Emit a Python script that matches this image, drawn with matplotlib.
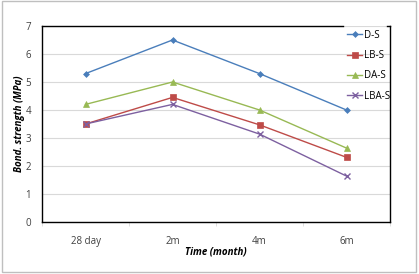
import matplotlib
matplotlib.use("Agg")
import matplotlib.pyplot as plt
from matplotlib.lines import Line2D
from matplotlib.patches import Rectangle

categories = ["28 day", "2m", "4m", "6m"]
series_names = ["D-S", "LB-S", "DA-S", "LBA-S"]
d_s = [5.3, 6.5, 5.3, 4.0]
lb_s = [3.5, 4.45, 3.47, 2.31]
da_s = [4.2, 5.0, 4.0, 2.64]
lba_s = [3.5, 4.2, 3.14, 1.64]
colors = ["#4A7EBB", "#BE4B48", "#98B954", "#7D60A0"]
markers = ["D", "s", "^", "x"]
msizes = [3, 4, 4, 4]

plt.rcParams['font.family'] = ['Open Sans', 'DejaVu Sans']

fig = plt.figure(figsize=(4.19, 2.74), dpi=100)
fig.patches.append(Rectangle((0.004, 0.006), 0.988, 0.99, transform=fig.transFigure,
                             fill=False, edgecolor="#BFBFBF", linewidth=1.0))
ax = fig.add_axes([42/419, 1-222/274, 348/419, 196/274])

xs = [i + 0.5 for i in range(len(categories))]
for name, vals, c, m, ms in zip(series_names, [d_s, lb_s, da_s, lba_s], colors, markers, msizes):
    ax.plot(xs, vals, color=c, marker=m, markersize=ms, linewidth=1.0, label=name,
            markeredgewidth=1.0 if m == "x" else 0.5)

ax.set_xlim(0, 4)
ax.set_ylim(0, 7)
ax.set_yticks(range(0, 8))
ax.set_xticks(xs)
ax.set_xticklabels(categories)
ax.set_xticks([0, 1, 2, 3, 4], minor=True)
ax.tick_params(axis="x", which="major", length=0, labelsize=7, pad=10, colors="#404040")
ax.tick_params(axis="x", which="minor", length=3, color="#D9D9D9")
ax.tick_params(axis="y", length=0, labelsize=7, colors="#404040", pad=8)
ax.grid(axis="y", color="#D9D9D9", linewidth=0.8)
ax.set_axisbelow(True)
ax.spines["top"].set_visible(False)
for s in ["left", "bottom", "right"]:
    ax.spines[s].set_color("#000000")
    ax.spines[s].set_linewidth(1.0)
ax.add_line(Line2D([0, 0.865], [1, 1], transform=ax.transAxes, color="black", linewidth=1.0, clip_on=False))
ax.add_line(Line2D([0.99, 1], [1, 1], transform=ax.transAxes, color="black", linewidth=1.0, clip_on=False))

ax.set_ylabel("Bond. strength (MPa)", fontsize=7, fontweight="bold", style="italic")
ax.yaxis.set_label_coords(-17/348, 0.5)
ax.set_xlabel("Time (month)", fontsize=7, fontweight="bold", style="italic")
ax.xaxis.set_label_coords(0.5, -24/196)

leg = ax.legend(loc="upper left", bbox_to_anchor=(0.865, 1.0), frameon=False, fontsize=7,
                handlelength=1.6, handletextpad=0.2, labelspacing=0.95, borderaxespad=0.0)
fig.savefig("out.png", dpi=100)
